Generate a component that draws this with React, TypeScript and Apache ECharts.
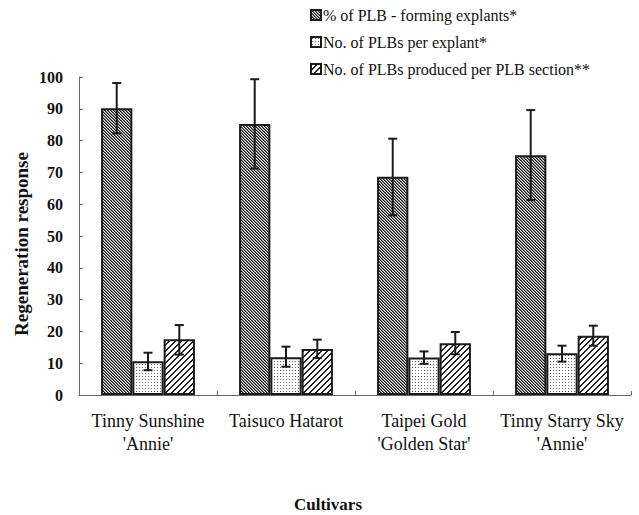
import React, { useEffect, useRef } from "react";
import * as echarts from "echarts";

const categories = [
  "Tinny Sunshine\n'Annie'",
  "Taisuco Hatarot",
  "Taipei Gold\n'Golden Star'",
  "Tinny Starry Sky\n'Annie'",
];
const seriesNames = [
  "% of PLB - forming explants*",
  "No. of PLBs per explant*",
  "No. of PLBs produced per PLB section**",
];
const pctForming = [90.2, 85.2, 68.6, 75.4];
const pctFormingLow = [82.3, 71.2, 56.5, 61.3];
const pctFormingHigh = [98.1, 99.3, 80.6, 89.6];
const plbsPerExplant = [10.6, 11.9, 11.8, 13.1];
const plbsPerExplantLow = [7.8, 8.9, 9.8, 10.5];
const plbsPerExplantHigh = [13.3, 15.2, 13.7, 15.5];
const plbsPerSection = [17.5, 14.5, 16.3, 18.6];
const plbsPerSectionLow = [12.7, 11.6, 12.8, 15.5];
const plbsPerSectionHigh = [22.0, 17.4, 19.8, 21.8];
const yMin = 0;
const yMax = 100;
const yStep = 10;
const xTitle = "Cultivars";
const yTitle = "Regeneration response";

const SERIF = "Liberation Serif";
const CAT_GAP = 0.32;

function makePattern(size: number, draw: (ctx: CanvasRenderingContext2D, s: number) => void) {
  const c = document.createElement("canvas");
  c.width = size;
  c.height = size;
  const ctx = c.getContext("2d")!;
  draw(ctx, size);
  return { image: c.toDataURL(), repeat: "repeat", imageWidth: size, imageHeight: size };
}

export default function App() {
  const ref = useRef<HTMLDivElement>(null);
  useEffect(() => {
    if (!ref.current) return;
    const chart = echarts.init(ref.current, null, { renderer: "svg" });

    const pat1 = makePattern(3, (ctx, s) => {
      ctx.fillStyle = "#e6e6e6";
      ctx.fillRect(0, 0, s, s);
      for (let i = 0; i < s; i++) {
        ctx.fillStyle = "#1a1a1a";
        ctx.fillRect(i, i, 1, 1);
        ctx.fillStyle = "#7a7a7a";
        ctx.fillRect((i + 1) % s, i, 1, 1);
      }
    });
    const pat2 = makePattern(3, (ctx, s) => {
      ctx.fillStyle = "#ffffff";
      ctx.fillRect(0, 0, s, s);
      ctx.fillStyle = "#6a6a6a";
      ctx.fillRect(1, 1, 1, 1);
    });
    const pat3 = makePattern(6, (ctx, s) => {
      ctx.fillStyle = "#ffffff";
      ctx.fillRect(0, 0, s, s);
      ctx.fillStyle = "#222222";
      for (let y = 0; y < s; y++) {
        ctx.fillRect((s - 1 - y + s) % s, y, 1, 1);
        ctx.fillRect((s - y) % s, y, 1, 1);
      }
    });
    const patterns = [pat1, pat2, pat3];
    const values = [pctForming, plbsPerExplant, plbsPerSection];
    const lows = [pctFormingLow, plbsPerExplantLow, plbsPerSectionLow];
    const highs = [pctFormingHigh, plbsPerExplantHigh, plbsPerSectionHigh];

    const barSeries = values.map((vals, k) => ({
      type: "bar",
      name: seriesNames[k],
      data: vals,
      barGap: "0%",
      barCategoryGap: `${CAT_GAP * 100}%`,
      itemStyle: { color: patterns[k], borderColor: "#1a1a1a", borderWidth: 2 },
      z: 2,
    }));

    const errSeries = values.map((_, k) => ({
      type: "custom",
      name: "err" + k,
      data: categories.map((_c, i) => [i, lows[k][i], highs[k][i]]),
      encode: { x: 0, y: [1, 2] },
      z: 5,
      renderItem: (params: any, api: any) => {
        const idx = api.value(0);
        const lo = api.coord([idx, api.value(1)]);
        const hi = api.coord([idx, api.value(2)]);
        const band = api.size([1, 0])[0];
        const barW = (band * (1 - CAT_GAP)) / 3;
        const x = lo[0] + (k - 1) * barW;
        const cap = 4.5;
        const st = { stroke: "#1a1a1a", lineWidth: 2 };
        return {
          type: "group",
          children: [
            { type: "line", shape: { x1: x, y1: hi[1], x2: x, y2: lo[1] }, style: st },
            { type: "line", shape: { x1: x - cap, y1: hi[1], x2: x + cap, y2: hi[1] }, style: st },
            { type: "line", shape: { x1: x - cap, y1: lo[1], x2: x + cap, y2: lo[1] }, style: st },
          ],
        };
      },
    }));

    chart.setOption({
      animation: false,
      backgroundColor: "#ffffff",
      textStyle: { fontFamily: SERIF },
      grid: { left: 79, right: 8, top: 77, bottom: 120, containLabel: false },
      legend: {
        data: seriesNames,
        orient: "vertical",
        left: 310,
        top: 7,
        padding: 0,
        itemGap: 11,
        itemWidth: 10,
        itemHeight: 10,
        icon: "rect",
        selectedMode: false,
        textStyle: { fontFamily: SERIF, fontSize: 16, color: "#111", padding: [0, 0, 0, -3] },
      },
      xAxis: {
        type: "category",
        data: categories,
        axisLine: { show: true, lineStyle: { color: "#666", width: 1 } },
        axisTick: { show: true, inside: true, length: 4, lineStyle: { color: "#666" } },
        axisLabel: {
          fontFamily: SERIF,
          fontSize: 18,
          lineHeight: 23,
          color: "#111",
          margin: 14,
          interval: 0,
        },
        splitLine: { show: false },
      },
      yAxis: {
        type: "value",
        min: yMin,
        max: yMax,
        interval: yStep,
        axisLine: { show: true, lineStyle: { color: "#666", width: 1 } },
        axisTick: { show: true, inside: true, length: 4, lineStyle: { color: "#666" } },
        axisLabel: {
          fontFamily: SERIF,
          fontSize: 16,
          fontWeight: "bold",
          color: "#111",
          margin: 16,
        },
        splitLine: { show: false },
      },
      graphic: [
        {
          type: "text",
          x: 21,
          y: 244,
          rotation: Math.PI / 2,
          style: {
            text: yTitle,
            fill: "#111",
            fontFamily: SERIF,
            fontSize: 19,
            fontWeight: "bold",
            textAlign: "center",
            textVerticalAlign: "middle",
          },
        },
        {
          type: "text",
          x: 328,
          y: 504,
          style: {
            text: xTitle,
            fill: "#111",
            fontFamily: SERIF,
            fontSize: 17,
            fontWeight: "bold",
            textAlign: "center",
            textVerticalAlign: "middle",
          },
        },
      ],
      series: [...barSeries, ...errSeries],
    });
    return () => chart.dispose();
  }, []);
  return (
    <div
      ref={ref}
      style={{ position: "fixed", left: 0, top: 0, width: 639, height: 515, background: "#fff" }}
    />
  );
}
